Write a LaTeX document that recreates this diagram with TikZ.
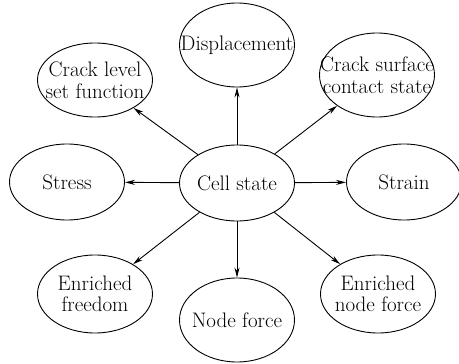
\documentclass[tikz,border=0pt]{standalone}
\usetikzlibrary{shapes.geometric,arrows.meta}
\begin{document}
\begin{tikzpicture}[x=1pt,y=-1pt,
  oval/.style={draw,ellipse,line width=0.9pt,inner sep=0pt,minimum width=115pt,minimum height=76pt},
  txt/.style={align=center,inner sep=0pt,font=\fontsize{21}{21.5}\selectfont},
  arr/.style={draw,line width=0.9pt,-{Stealth[length=10pt,width=5pt]}}]
\useasboundingbox (0,0) rectangle (459,364);
\node[oval,label={[txt]center:Cell state}] (cell) at (237,183) {};
\node[oval,label={[txt]center:Stress}] (stress) at (67,182) {};
\node[oval,label={[txt]center:Strain}] (strain) at (404,182) {};
\node[oval,minimum height=84pt,label={[txt]center:Displacement}] (disp) at (237,45) {};
\node[oval,minimum height=74pt,label={[txt]center:Crack level\\set function}] (crack) at (95,80) {};
\node[oval,minimum height=84pt,label={[txt]center:Crack surface\\contact state}] (surf) at (377,75) {};
\node[oval,minimum height=78pt,label={[txt]center:Enriched\\freedom}] (efree) at (95,294) {};
\node[oval,minimum height=84pt,label={[txt]center:Node force}] (nforce) at (237,320) {};
\node[oval,minimum height=78pt,label={[txt]center:Enriched\\node force}] (enforce) at (378,294) {};
\foreach \t in {stress,strain,disp,crack,surf,efree,nforce,enforce}
  \draw[arr] (cell) -- (\t);
\end{tikzpicture}
\end{document}
